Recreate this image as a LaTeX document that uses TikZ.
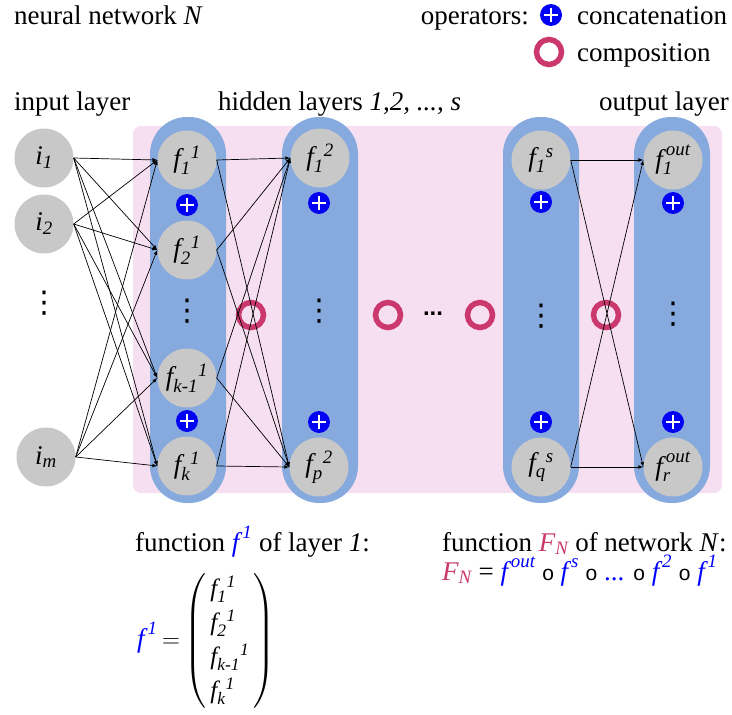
\documentclass[tikz,border=0pt]{standalone}
\usepackage{amsmath}
\usepackage{fontspec}
\setmainfont{Liberation Serif}
\setsansfont{Liberation Sans}
\newfontfamily\symfont{DejaVu Sans}

\definecolor{bgpink}{RGB}{246,223,241}
\definecolor{colblue}{RGB}{134,170,222}
\definecolor{nodegray}{RGB}{200,200,200}
\definecolor{ringpink}{RGB}{202,56,110}
\definecolor{catblue}{RGB}{0,0,245}

\newcommand{\mi}[1]{\text{\itshape #1}}
\newcommand{\fs}[2]{\mi{f}_{\mi{#1}}{}^{\mi{#2}}}
\newcommand{\fo}[1]{\mi{f}_{\mi{#1}}^{\,\mi{out}}}
\newcommand{\fsup}[1]{\textcolor{blue}{$\mi{f}^{\,\mi{#1}}$}}
\newcommand{\compo}{{\sffamily\fontsize{21}{21}\selectfont o}}

\begin{document}
\begin{tikzpicture}
    \def\dx{1pt}
    \def\dy{-1pt}

    \tikzstyle{title}=[font=\fontsize{27}{31}\selectfont,inner sep=0pt]
    \tikzstyle{unit}=[circle,fill=nodegray,minimum size=59pt,inner sep=0pt,font=\fontsize{27}{31}\selectfont]
    \tikzstyle{dots}=[inner sep=0pt,font=\fontsize{30}{34}\selectfont\symfont]
    \tikzstyle{cat}=[circle,fill=catblue,minimum size=22pt,inner sep=0pt,
        path picture={\draw[white,line width=2.6pt]
          ([xshift=-7pt]path picture bounding box.center) -- ([xshift=7pt]path picture bounding box.center)
          ([yshift=-7pt]path picture bounding box.center) -- ([yshift=7pt]path picture bounding box.center);}]
    \tikzstyle{comp}=[circle,draw=ringpink,line width=5.5pt,minimum size=25pt,inner sep=0pt]
    \tikzstyle{column}=[fill=colblue,rounded corners=37pt]

    \useasboundingbox (0,0) rectangle (732*\dx,715*\dy);

    % background and layer columns
    \fill[bgpink,rounded corners=8pt] (133*\dx,126*\dy) rectangle (722*\dx,493*\dy);
    \fill[column] (150*\dx,117*\dy) rectangle (226*\dx,503*\dy);
    \fill[column] (282*\dx,117*\dy) rectangle (358*\dx,503*\dy);
    \fill[column] (503*\dx,117*\dy) rectangle (579*\dx,503*\dy);
    \fill[column] (634*\dx,117*\dy) rectangle (710*\dx,503*\dy);

    % titles and legend
    \node[title,anchor=base west] (net) at (14*\dx,24*\dy) {neural network \textit{N}};
    \node[title,anchor=base east] (ops) at (529*\dx,24*\dy) {operators:};
    \node[cat] (lcat) at (551*\dx,15*\dy) {};
    \node[title,anchor=base west] (lcatt) at (577*\dx,24*\dy) {concatenation};
    \node[comp] (lcomp) at (549*\dx,52*\dy) {};
    \node[title,anchor=base west] (lcompt) at (577*\dx,61*\dy) {composition};
    \node[title,anchor=base west] (inl) at (14*\dx,110*\dy) {input layer};
    \node[title,anchor=base west] (hidl) at (218*\dx,110*\dy) {hidden layers \textit{1,2, ..., s}};
    \node[title,anchor=base east] (outl) at (729*\dx,110*\dy) {output layer};

    % input layer
    \node[unit] (i1) at (44*\dx,158*\dy) {$\mi{i}_{\mi{1}}$};
    \node[unit] (i2) at (44*\dx,224*\dy) {$\mi{i}_{\mi{2}}$};
    \node[dots] (id) at (44*\dx,303*\dy) {⋮};
    \node[unit] (im) at (46*\dx,457*\dy) {$\mi{i}_{\mi{m}}$};

    % hidden layer 1
    \node[unit] (a1) at (187*\dx,160*\dy) {$\fs{1}{1}$};
    \node[cat] (ca1) at (187*\dx,205*\dy) {};
    \node[unit] (a2) at (187*\dx,250*\dy) {$\fs{2}{1}$};
    \node[dots] (ad) at (187*\dx,311*\dy) {⋮};
    \node[unit] (ak1) at (187*\dx,378*\dy) {$\fs{k-1}{1}$};
    \node[cat] (ca2) at (187*\dx,421*\dy) {};
    \node[unit] (ak) at (187*\dx,466*\dy) {$\fs{k}{1}$};

    % hidden layer 2
    \node[unit] (b1) at (320*\dx,158*\dy) {$\fs{1}{2}$};
    \node[cat] (cb1) at (319*\dx,203*\dy) {};
    \node[dots] (bd) at (319*\dx,311*\dy) {⋮};
    \node[cat] (cb2) at (319*\dx,422*\dy) {};
    \node[unit] (bp) at (319*\dx,467*\dy) {$\fs{p}{2}$};

    % hidden layer s
    \node[unit] (s1) at (541*\dx,160*\dy) {$\fs{1}{s}$};
    \node[cat] (cs1) at (541*\dx,202*\dy) {};
    \node[dots] (sd) at (541*\dx,316*\dy) {⋮};
    \node[cat] (cs2) at (541*\dx,422*\dy) {};
    \node[unit] (sq) at (541*\dx,467*\dy) {$\fs{q}{s}$};

    % output layer
    \node[unit] (o1) at (673*\dx,160*\dy) {$\fo{1}$};
    \node[cat] (co1) at (673*\dx,203*\dy) {};
    \node[dots] (od) at (673*\dx,314*\dy) {⋮};
    \node[cat] (co2) at (673*\dx,422*\dy) {};
    \node[unit] (or) at (673*\dx,467*\dy) {$\fo{r}$};

    % composition between layers
    \node[comp] (m1) at (251*\dx,315*\dy) {};
    \node[comp] (m2) at (388*\dx,315*\dy) {};
    \node[dots,font=\fontsize{24}{28}\selectfont\sffamily\bfseries] (md) at (433*\dx,314*\dy) {...};
    \node[comp] (m3) at (480*\dx,315*\dy) {};
    \node[comp] (m4) at (606*\dx,315*\dy) {};

    % formulas
    \node[title,anchor=base west] (fdef) at (135*\dx,551*\dy) {function \fsup{1} of layer \textit{1}:};
    \node[title,anchor=west] (fvec) at (137*\dx,641*\dy)
        {\fsup{1}\,$=$\,\fontsize{25}{34}\selectfont$\left(\begin{array}{@{\,}l@{\,}}\fs{1}{1}\\ \fs{2}{1}\\ \fs{k-1}{1}\\ \fs{k}{1}\end{array}\right)$};
    \node[title,anchor=base west] (Fdef) at (442*\dx,551*\dy)
        {function \textcolor{ringpink}{$\mi{F}_{\mi{N}}$} of network \textit{N}:};
    \node[title,anchor=base west] (Feq) at (442*\dx,580*\dy)
        {\textcolor{ringpink}{$\mi{F}_{\mi{N}}$} = \fsup{out} \compo{} \fsup{s} \compo{} \textcolor{blue}{...} \compo{} \fsup{2} \compo{} \fsup{1}};

    \pgfsetarrowsend{latex}
    \tikzstyle{fwd} = [draw=black, line width=0.7pt]

          \draw [fwd] (i1.east) -- (a1.west);
          \draw [fwd] (i1.east) -- (a2.west);
          \draw [fwd] (i1.east) -- (ak1.west);
          \draw [fwd] (i1.east) -- (ak.west);
          \draw [fwd] (i2.east) -- (a1.west);
          \draw [fwd] (i2.east) -- (a2.west);
          \draw [fwd] (i2.east) -- (ak1.west);
          \draw [fwd] (i2.east) -- (ak.west);
          \draw [fwd] (im.east) -- (a1.west);
          \draw [fwd] (im.east) -- (a2.west);
          \draw [fwd] (im.east) -- (ak1.west);
          \draw [fwd] (im.east) -- (ak.west);
          \draw [fwd] (a1.east) -- (b1.west);
          \draw [fwd] (a1.east) -- (bp.west);
          \draw [fwd] (a2.east) -- (b1.west);
          \draw [fwd] (a2.east) -- (bp.west);
          \draw [fwd] (ak1.east) -- (b1.west);
          \draw [fwd] (ak1.east) -- (bp.west);
          \draw [fwd] (ak.east) -- (b1.west);
          \draw [fwd] (ak.east) -- (bp.west);
          \draw [fwd] (s1.east) -- (o1.west);
          \draw [fwd] (s1.east) -- (or.west);
          \draw [fwd] (sq.east) -- (o1.west);
          \draw [fwd] (sq.east) -- (or.west);

\end{tikzpicture}
\end{document}
